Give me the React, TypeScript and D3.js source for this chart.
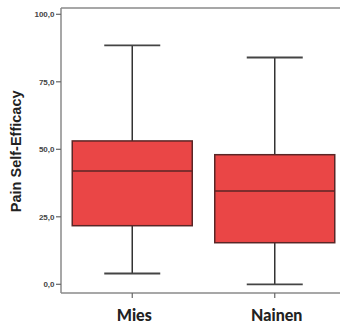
import * as d3 from "d3";
import React from "react";

// groups and their box statistics
const groups = ["Mies", "Nainen"];
const whiskerLow = [4, 0];
const q1 = [21.7, 15.4];
const median = [42, 34.6];
const q3 = [53.1, 48];
const whiskerHigh = [88.5, 84];
const yTicks = [0, 25, 50, 75, 100];

const W = 340;
const H = 325;

export default function App() {
    const y = d3.scaleLinear().domain([0, 100]).range([284.3, 14.3]);
    const x = d3.scalePoint<string>().domain(groups).range([61, 346]).padding(0.5);
    const boxHalf = 60;
    const capHalf = 28;
    const fmt = (v: number) => d3.format(".1f")(v).replace(".", ",");

    const frameTop = 8;
    const frameBottom = 293;
    const frameLeft = 61;

    return (
        <svg
            width={W}
            height={H}
            style={{ position: "absolute", left: 0, top: 0, background: "#fff" }}
        >
            {/* frame */}
            <g stroke="#8a8a8a" strokeWidth={1.5} fill="none">
                <line x1={frameLeft} x2={frameLeft} y1={frameTop} y2={frameBottom} />
                <line x1={frameLeft} x2={W} y1={frameTop} y2={frameTop} />
                <line x1={frameLeft} x2={W} y1={frameBottom} y2={frameBottom} />
            </g>

            {/* y ticks */}
            {yTicks.map(t => (
                <g key={t}>
                    <line x1={56} x2={frameLeft} y1={y(t)} y2={y(t)} stroke="#666" strokeWidth={1.2} />
                    <text
                        x={54.5}
                        y={y(t)}
                        dy="0.35em"
                        textAnchor="end"
                        fontFamily="Liberation Sans, Arial, sans-serif"
                        fontWeight="bold"
                        fontSize={8}
                        fill="#444"
                    >
                        {fmt(t)}
                    </text>
                </g>
            ))}

            {/* y title */}
            <text
                transform={`translate(21,${(y(0) + y(100)) / 2 + 2}) rotate(-90)`}
                textAnchor="middle"
                fontFamily="Liberation Sans, Arial, sans-serif"
                fontWeight="bold"
                fontSize={14.5}
                fill="#222"
            >
                Pain Self-Efficacy
            </text>

            {/* boxes */}
            {groups.map((g, i) => {
                const cx = x(g) as number;
                return (
                    <g key={g}>
                        <line x1={cx} x2={cx} y1={y(whiskerHigh[i])} y2={y(q3[i])} stroke="#333" strokeWidth={1.5} />
                        <line x1={cx} x2={cx} y1={y(q1[i])} y2={y(whiskerLow[i])} stroke="#333" strokeWidth={1.5} />
                        <line x1={cx - capHalf} x2={cx + capHalf} y1={y(whiskerHigh[i])} y2={y(whiskerHigh[i])} stroke="#444" strokeWidth={1.8} />
                        <line x1={cx - capHalf} x2={cx + capHalf} y1={y(whiskerLow[i])} y2={y(whiskerLow[i])} stroke="#444" strokeWidth={1.8} />
                        <rect
                            x={cx - boxHalf}
                            y={y(q3[i])}
                            width={boxHalf * 2}
                            height={y(q1[i]) - y(q3[i])}
                            fill="#ea4646"
                            stroke="#5a2626"
                            strokeWidth={1.5}
                        />
                        <line x1={cx - boxHalf} x2={cx + boxHalf} y1={y(median[i])} y2={y(median[i])} stroke="#5a2626" strokeWidth={1.5} />
                        <line x1={cx} x2={cx} y1={frameBottom} y2={frameBottom + 5} stroke="#666" strokeWidth={1.2} />
                        <text
                            x={cx + 2}
                            y={321}
                            textAnchor="middle"
                            fontFamily="Lato, sans-serif"
                            fontWeight="900"
                            fontSize={16}
                            fill="#222"
                        >
                            {g}
                        </text>
                    </g>
                );
            })}
        </svg>
    );
}
